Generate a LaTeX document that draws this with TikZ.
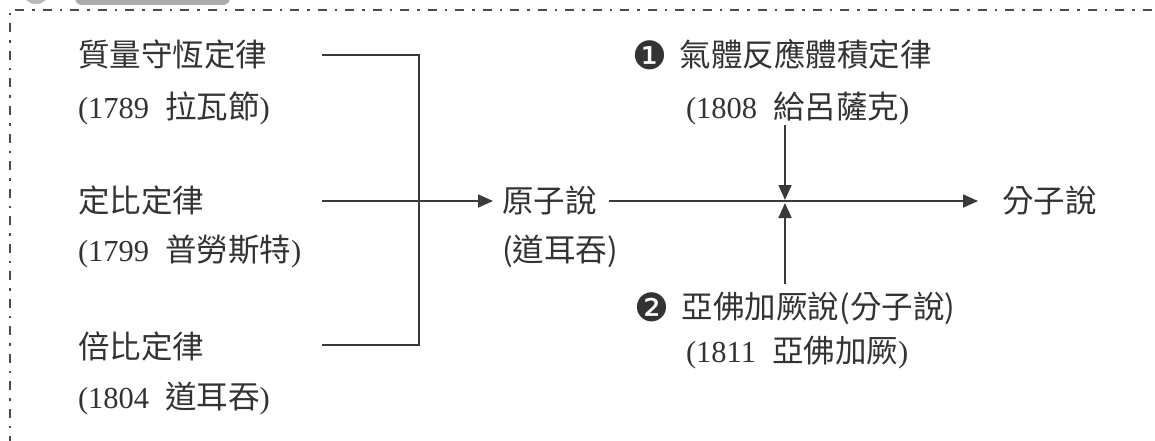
\documentclass[tikz,border=0pt]{standalone}
\usepackage{fontspec}
\usetikzlibrary{arrows.meta}
\newfontfamily\cjk{Noto Sans CJK TC}
\newfontfamily\tnr{Liberation Serif}
\newfontfamily\dvs{DejaVu Sans}
\definecolor{ink}{HTML}{333333}
\definecolor{linecol}{HTML}{3A3A3A}
\definecolor{bordercol}{HTML}{4A4A4A}
\newcommand\yrtext[2]{{\tnr\fontsize{30.5}{34}\selectfont(#1}\hspace{16pt}#2{\tnr\fontsize{30.5}{34}\selectfont)}}
\newcommand\dingtext[1]{\raisebox{-2.5pt}{\dvs\fontsize{39}{40}\selectfont #1}}
\tikzset{
  txt/.style={anchor=west, inner sep=0pt, outer sep=0pt, text=ink,
    font=\cjk\fontsize{31.5}{36}\selectfont, text height=27.7pt, text depth=3.8pt},
  conn/.style={draw=linecol, line width=1.8pt},
  arr/.style={conn, -{Triangle[length=15pt,width=13pt]}},
  border/.style={draw=bordercol, line width=2.2pt, dash pattern=on 9pt off 8pt on 2.5pt off 8pt}
}
\begin{document}
\begin{tikzpicture}[x=1pt,y=-1pt]
\useasboundingbox (0,0) rectangle (1155,441);
\fill[white] (0,0) rectangle (1155,441);
% top header pieces
\fill[gray!65, rounded corners=7pt] (75,-25) rectangle (230,5);
\fill[gray!55] (36,-10) circle (14);
% frame
\draw[border] (10,445) -- (10,10) -- (1160,10);
% left column
\node[txt] (law1) at (78,55) {質量守恆定律};
\node[txt] (yr1) at (78,107) {\yrtext{1789}{拉瓦節}};
\node[txt] (law2) at (78,201) {定比定律};
\node[txt] (yr2) at (78,250) {\yrtext{1799}{普勞斯特}};
\node[txt] (law3) at (78,347) {倍比定律};
\node[txt] (yr3) at (78,397) {\yrtext{1804}{道耳吞}};
% atom theory
\node[txt] (atom) at (502,201) {原子說};
\node[txt] (atomyr) at (502,250) {(道耳吞)};
% molecule
\node[txt] (mol) at (1002,201) {分子說};
% gas law
\node[txt] (gas) at (632,55) {\dingtext{❶}\hspace{13pt}氣體反應體積定律};
\node[txt] (gasyr) at (686,107) {\yrtext{1808}{給呂薩克}};
% avogadro
\node[txt] (avo) at (634,307) {\dingtext{❷}\hspace{13pt}亞佛加厥說(分子說)};
\node[txt] (avoyr) at (686,351) {\yrtext{1811}{亞佛加厥}};
% connectors
\coordinate (b1) at (322,55);
\coordinate (b2) at (322,201);
\coordinate (b3) at (322,345);
\coordinate (bt) at (419,55);
\coordinate (bb) at (419,345);
\draw[conn] (b1) -- (bt) -- (bb) -- (b3);
\draw[arr, shorten >=9pt] (b2) -- (atom.west);
\draw[arr, shorten <=12pt, shorten >=24pt] (atom.east) -- (mol.west);
\coordinate (vt) at (785,125);
\coordinate (jt) at (785,200);
\coordinate (jb) at (785,203);
\coordinate (vb) at (785,284);
\draw[arr] (vt) -- (jt);
\draw[arr] (vb) -- (jb);
\end{tikzpicture}
\end{document}
